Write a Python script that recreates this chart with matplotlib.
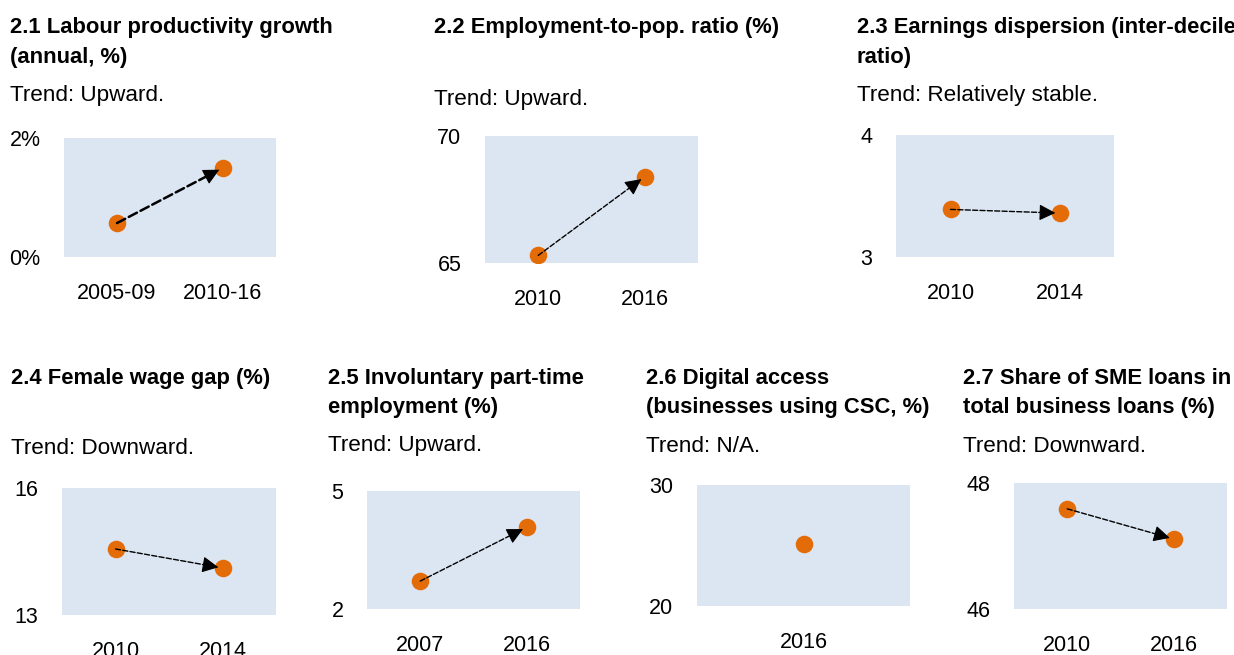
import matplotlib
matplotlib.use('Agg')
import matplotlib.pyplot as plt

plt.rcParams['font.family'] = ['Liberation Sans', 'DejaVu Sans']

# data
titles = [
    ['2.1 Labour productivity growth', '(annual, %)'],
    ['2.2 Employment-to-pop. ratio (%)'],
    ['2.3 Earnings dispersion (inter-decile', 'ratio)'],
    ['2.4 Female wage gap (%)'],
    ['2.5 Involuntary part-time', 'employment (%)'],
    ['2.6 Digital access', '(businesses using CSC, %)'],
    ['2.7 Share of SME loans in', 'total business loans (%)'],
]
trends = ['Trend: Upward.', 'Trend: Upward.', 'Trend: Relatively stable.',
          'Trend: Downward.', 'Trend: Upward.', 'Trend: N/A.', 'Trend: Downward.']

cats_21 = ['2005-09', '2010-16']
vals_21 = [0.57, 1.50]
cats_22 = ['2010', '2016']
vals_22 = [65.3, 68.4]
cats_23 = ['2010', '2014']
vals_23 = [3.39, 3.36]
cats_24 = ['2010', '2014']
vals_24 = [14.56, 14.11]
cats_25 = ['2007', '2016']
vals_25 = [2.71, 4.08]
cats_26 = ['2016']
vals_26 = [25.1]
cats_27 = ['2010', '2016']
vals_27 = [47.59, 47.11]

yticks = [[0, 2], [65, 70], [3, 4], [13, 16], [2, 5], [20, 30], [46, 48]]
ylabels = [['0%', '2%'], ['65', '70'], ['3', '4'], ['13', '16'], ['2', '5'], ['20', '30'], ['46', '48']]

cats = [cats_21, cats_22, cats_23, cats_24, cats_25, cats_26, cats_27]
vals = [vals_21, vals_22, vals_23, vals_24, vals_25, vals_26, vals_27]

# layout in pixels: axes box (x0, x1, ytop, ybottom), text x, title y, trend y
W, H = 1234, 655
boxes = [(64, 276, 138, 257), (485, 698, 136, 263), (896, 1114, 135, 257),
         (62, 276, 488, 615), (367, 580, 491, 609), (697, 910, 485, 606),
         (1014, 1227, 483, 609)]
text_x = [10, 434, 857, 11, 328, 646, 963]
title_y = [27, 27, 27, 378, 378, 378, 378]
trend_y = [95, 99, 95, 449, 445, 446, 446]
arrow_lw = [1.8, 1.0, 1.0, 1.0, 1.0, 1.0, 1.0]

bg = '#DCE6F2'
dot = '#E36C09'

fig = plt.figure(figsize=(W / 100, H / 100), dpi=100)

for i in range(7):
    x0, x1, yt, yb = boxes[i]
    ax = fig.add_axes([x0 / W, 1 - yb / H, (x1 - x0) / W, (yb - yt) / H])
    ax.set_facecolor(bg)
    for s in ax.spines.values():
        s.set_visible(False)

    n = len(cats[i])
    xs = list(range(n))
    ax.scatter(xs, vals[i], s=160, color=dot, zorder=3, linewidths=0)
    if n == 2:
        # dashed shaft, then a solid head over its last bit
        ax.annotate('', xy=(xs[1], vals[i][1]), xytext=(xs[0], vals[i][0]),
                    arrowprops=dict(arrowstyle='-', linestyle='--', lw=arrow_lw[i],
                                    color='black', shrinkA=0, shrinkB=8),
                    zorder=4)
        mx = xs[0] + 0.85 * (xs[1] - xs[0])
        my = vals[i][0] + 0.85 * (vals[i][1] - vals[i][0])
        ax.annotate('', xy=(xs[1], vals[i][1]), xytext=(mx, my),
                    arrowprops=dict(arrowstyle='-|>', lw=0.8, color='black',
                                    shrinkA=0, shrinkB=3, mutation_scale=25),
                    zorder=4)
        ax.set_xlim(-0.5, 1.5)
    else:
        ax.set_xlim(-1, 1)

    ax.set_ylim(yticks[i][0], yticks[i][1])
    ax.set_yticks(yticks[i])
    ax.set_yticklabels(ylabels[i])
    ax.set_xticks(xs)
    ax.set_xticklabels(cats[i])
    ax.tick_params(length=0, labelsize=15.5, pad=17)
    ax.tick_params(axis='x', pad=19)

    for k, line in enumerate(titles[i]):
        fig.text(text_x[i] / W, 1 - (title_y[i] + 30 * k) / H, line,
                 fontsize=15.8, fontweight='bold', va='center', ha='left')
    fig.text(text_x[i] / W, 1 - trend_y[i] / H, trends[i],
             fontsize=16.2, va='center', ha='left')

fig.savefig('out.png', dpi=100)
